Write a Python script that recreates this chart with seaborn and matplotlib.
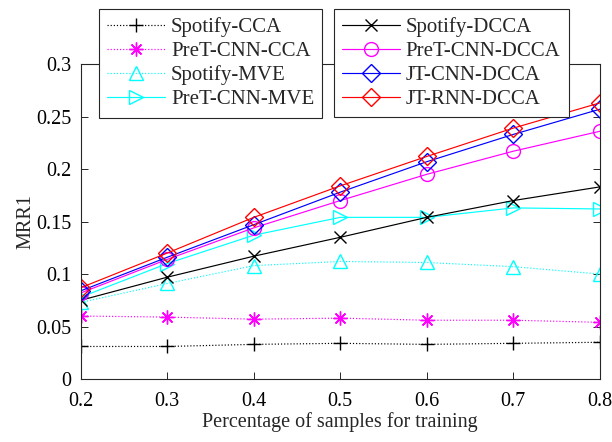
import matplotlib
matplotlib.use("Agg")
import matplotlib.pyplot as plt
import seaborn as sns

sns.set_style("ticks")
plt.rcParams['font.family'] = ['Liberation Serif', 'DejaVu Serif']

# training ratio on the x axis
train_ratio = [0.2, 0.3, 0.4, 0.5, 0.6, 0.7, 0.8]

spotify_cca = [0.031, 0.031, 0.033, 0.034, 0.033, 0.034, 0.035]
pret_cnn_cca = [0.060, 0.059, 0.057, 0.058, 0.056, 0.056, 0.054]
spotify_mve = [0.073, 0.091, 0.108, 0.112, 0.111, 0.107, 0.100]
pret_cnn_mve = [0.078, 0.110, 0.137, 0.154, 0.154, 0.163, 0.162]
spotify_dcca = [0.075, 0.097, 0.117, 0.135, 0.154, 0.170, 0.183]
pret_cnn_dcca = [0.082, 0.114, 0.144, 0.170, 0.195, 0.217, 0.236]
jt_cnn_dcca = [0.084, 0.116, 0.147, 0.178, 0.207, 0.233, 0.257]
jt_rnn_dcca = [0.087, 0.120, 0.154, 0.184, 0.212, 0.239, 0.263]

asterisk = (8, 2, 0)
series = [
    ("Spotify-CCA", spotify_cca, "black", ":", "+", 10),
    ("PreT-CNN-CCA", pret_cnn_cca, "magenta", ":", asterisk, 10),
    ("Spotify-MVE", spotify_mve, "cyan", ":", "^", 10),
    ("PreT-CNN-MVE", pret_cnn_mve, "cyan", "-", ">", 10),
    ("Spotify-DCCA", spotify_dcca, "black", "-", "x", 8),
    ("PreT-CNN-DCCA", pret_cnn_dcca, "magenta", "-", "o", 10),
    ("JT-CNN-DCCA", jt_cnn_dcca, "blue", "-", "D", 9),
    ("JT-RNN-DCCA", jt_rnn_dcca, "red", "-", "D", 9),
]

fig = plt.figure(figsize=(6.12, 4.42), dpi=100)
ax = fig.add_axes([0.132, 0.1425, 0.848, 0.7125])

for name, vals, color, ls, mk, size in series:
    sns.lineplot(x=train_ratio, y=vals, ax=ax, color=color, linestyle=ls,
                 linewidth=0.85, marker=mk, markersize=size,
                 markerfacecolor="none", markeredgecolor=color,
                 markeredgewidth=1.0, label=name)

ax.set_xlim(0.2, 0.8)
ax.set_ylim(0, 0.3)
ax.set_xticks([0.2, 0.3, 0.4, 0.5, 0.6, 0.7, 0.8])
ax.set_xticklabels(["0.2", "0.3", "0.4", "0.5", "0.6", "0.7", "0.8"])
ax.set_yticks([0, 0.05, 0.1, 0.15, 0.2, 0.25, 0.3])
ax.set_yticklabels(["0", "0.05", "0.1", "0.15", "0.2", "0.25", "0.3"])
ax.tick_params(direction="in", length=5, width=0.7, labelsize=14.5,
               top=True, right=True, colors="#262626", labelcolor="black")
ax.tick_params(axis="x", pad=9)
ax.tick_params(axis="y", pad=7)
for sp in ax.spines.values():
    sp.set_linewidth(0.8)
    sp.set_color("#262626")
ax.set_xlabel("Percentage of samples for training", fontsize=14.5, labelpad=1)
ax.set_ylabel("MRR1", fontsize=14.5, labelpad=0)

handles, labels = ax.get_legend_handles_labels()
ax.get_legend().remove()

leg_kw = dict(fontsize=15, frameon=True, fancybox=False, framealpha=1,
              edgecolor="#262626", handlelength=2.75, handletextpad=0.3,
              labelspacing=0.21, borderpad=0.4, borderaxespad=0)
leg1 = fig.legend(handles[:4], labels[:4], loc="upper left",
                  bbox_to_anchor=(99 / 612, 1 - 9 / 442), **leg_kw)
leg2 = fig.legend(handles[4:], labels[4:], loc="upper left",
                  bbox_to_anchor=(334 / 612, 1 - 9 / 442), **leg_kw)
for leg in (leg1, leg2):
    leg.get_frame().set_linewidth(0.8)

fig.savefig("out.png", dpi=100)
